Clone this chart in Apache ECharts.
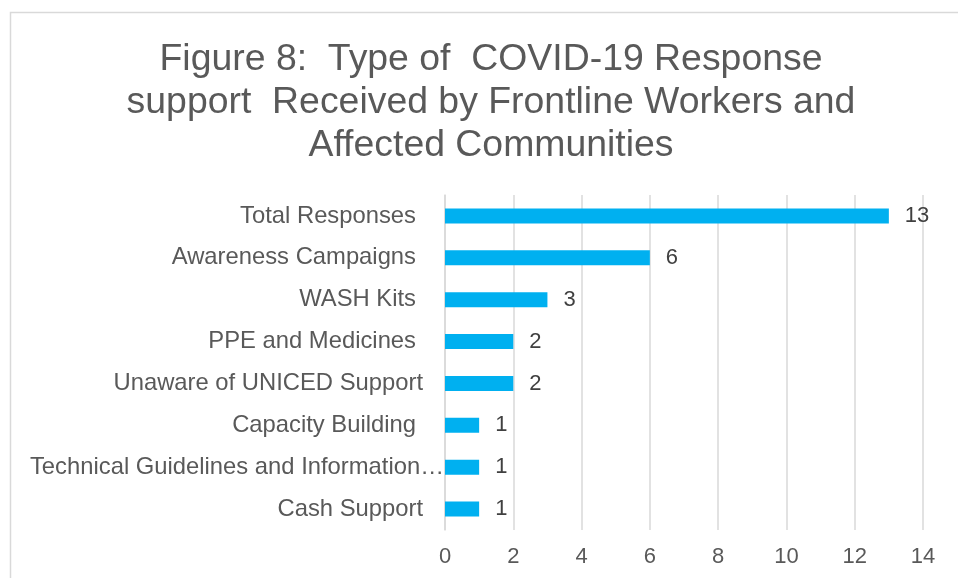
<!DOCTYPE html>
<html>
<head>
<meta charset="utf-8">
<script src="https://cdn.jsdelivr.net/npm/echarts@6/dist/echarts.min.js"></script>
<style>
  html, body { margin: 0; padding: 0; background: #ffffff; }
  #chart { width: 958px; height: 578px; }
</style>
</head>
<body>
<div id="chart"></div>
<script>
// Support types, top to bottom
const categories = [
  'Total Responses',
  'Awareness Campaigns',
  'WASH Kits',
  'PPE and Medicines',
  'Unaware of UNICED Support',
  'Capacity Building',
  'Technical Guidelines and Information…',
  'Cash Support'
];
// Number of responses per type
const counts = [13, 6, 3, 2, 2, 1, 1, 1];
// Value axis ticks
const xTicks = [0, 2, 4, 6, 8, 10, 12, 14];

const titleText = 'Figure 8:  Type of  COVID-19 Response\nsupport  Received by Frontline Workers and\nAffected Communities';

// Right-edge gap style of each category label
const labelGap = {
  'Unaware of UNICED Support': 'm',
  'Technical Guidelines and Information…': 'n',
  'Cash Support': 'm'
};

const chart = echarts.init(document.getElementById('chart'), null, { renderer: 'canvas' });

const FONT = '"Liberation Sans", Arial, sans-serif';
const CAT_SIZE = 23.8;

chart.setOption({
  animation: false,
  backgroundColor: '#ffffff',
  textStyle: { fontFamily: FONT },
  graphic: [{
    type: 'rect',
    shape: { x: 10.5, y: 12.5, width: 1200, height: 1200 },
    style: { fill: 'none', stroke: '#d9d9d9', lineWidth: 1.5 },
    silent: true
  }],
  title: {
    text: titleText,
    left: 486,
    top: 33,
    textAlign: 'center',
    textStyle: {
      fontFamily: FONT,
      fontSize: 37.4,
      fontWeight: 'normal',
      color: '#595959',
      lineHeight: 43
    }
  },
  grid: {
    left: 445,
    right: 35,
    top: 195,
    bottom: 48,
    containLabel: false
  },
  xAxis: {
    type: 'value',
    min: xTicks[0],
    max: xTicks[xTicks.length - 1],
    interval: xTicks[1] - xTicks[0],
    axisLine: { show: false },
    axisTick: { show: false },
    splitLine: { show: true, lineStyle: { color: '#d9d9d9', width: 1.5 } },
    axisLabel: {
      fontFamily: FONT,
      fontSize: 22,
      color: '#595959',
      margin: 16
    }
  },
  yAxis: {
    type: 'category',
    inverse: true,
    data: categories,
    axisLine: { show: true, lineStyle: { color: '#d9d9d9', width: 1.5 } },
    axisTick: { show: false },
    axisLabel: {
      margin: 1,
      formatter: function (v) {
        const k = labelGap[v] || 'w';
        return '{' + k + '|' + v + '}';
      },
      rich: {
        w: { fontFamily: FONT, fontSize: CAT_SIZE, color: '#595959', padding: [0, 28, 0, 0] },
        m: { fontFamily: FONT, fontSize: CAT_SIZE, color: '#595959', padding: [0, 21, 0, 0] },
        n: { fontFamily: FONT, fontSize: CAT_SIZE, color: '#595959', padding: [0, 0, 0, 0] }
      }
    }
  },
  series: [{
    type: 'bar',
    data: counts,
    barWidth: 15,
    itemStyle: { color: '#00b0f0' },
    label: {
      show: true,
      position: 'right',
      distance: 16,
      fontFamily: FONT,
      fontSize: 22,
      color: '#404040'
    }
  }]
});
</script>
</body>
</html>
